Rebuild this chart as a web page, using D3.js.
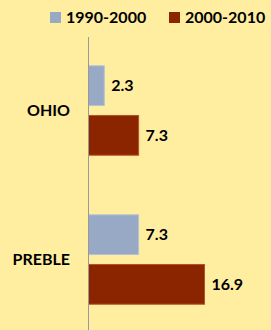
<!DOCTYPE html>
<html><head><meta charset="utf-8">
<script src="https://cdn.jsdelivr.net/npm/d3@7"></script>
<style>html,body{margin:0;padding:0;background:#FFEDA0;}svg{display:block;}</style>
</head><body>
<script>
const categories = ["OHIO", "PREBLE"];
const seriesNames = ["1990-2000", "2000-2010"];
const values1990 = [2.3, 7.3];
const values2000 = [7.3, 16.9];
const colors = ["#97A9C4", "#8B2500"];
const strokes = ["#B4C3D8", "#B5512A"];

const W = 271, H = 330;
const svg = d3.select("body").append("svg").attr("width", W).attr("height", H);
svg.append("rect").attr("width", W).attr("height", H).attr("fill", "#FFEDA0");

const x0 = 88.5;
const x = d3.scaleLinear().domain([0, 16.9]).range([x0, x0 + 116]);
const y = d3.scaleBand().domain(categories).range([36, 334]).paddingInner(0.4).paddingOuter(0.2);
const ySub = d3.scaleBand().domain(seriesNames).range([0, y.bandwidth()]).paddingInner(0.2);

const series = [values1990, values2000];
const data = [];
categories.forEach((c, i) => seriesNames.forEach((s, j) => data.push({c, s, j, v: series[j][i]})));

const font = "Lato, 'Open Sans', sans-serif";

svg.selectAll("rect.bar").data(data).enter().append("rect")
  .attr("class", "bar")
  .attr("x", x(0))
  .attr("y", d => y(d.c) + ySub(d.s))
  .attr("width", d => x(d.v) - x(0))
  .attr("height", ySub.bandwidth())
  .attr("fill", d => colors[d.j])
  .attr("stroke", d => strokes[d.j])
  .attr("stroke-width", 1);

svg.selectAll("text.val").data(data).enter().append("text")
  .attr("x", d => x(d.v) + 7)
  .attr("y", d => y(d.c) + ySub(d.s) + ySub.bandwidth() / 2)
  .attr("dy", "0.36em")
  .attr("font-family", font).attr("font-weight", 700).attr("font-size", 16)
  .attr("fill", "#000")
  .text(d => d.v.toFixed(1));

// axis line
svg.append("line").attr("x1", x0).attr("x2", x0).attr("y1", 37).attr("y2", H)
  .attr("stroke", "#999").attr("stroke-width", 1);

svg.selectAll("text.cat").data(categories).enter().append("text")
  .attr("x", 70)
  .attr("y", d => y(d) + y.bandwidth() / 2)
  .attr("dy", "0.36em")
  .attr("text-anchor", "end")
  .attr("font-family", font).attr("font-weight", 700).attr("font-size", 16)
  .text(d => d);

// legend
const legendX = [50, 169];
const lg = svg.selectAll("g.leg").data(seriesNames).enter().append("g")
  .attr("transform", (d, i) => `translate(${legendX[i]},12)`);
lg.append("rect").attr("width", 11).attr("height", 11).attr("fill", (d, i) => colors[i]);
lg.append("text").attr("x", 16).attr("y", 5.5).attr("dy", "0.36em")
  .attr("font-family", font).attr("font-weight", 700).attr("font-size", 16)
  .text(d => d);
</script>
</body></html>
